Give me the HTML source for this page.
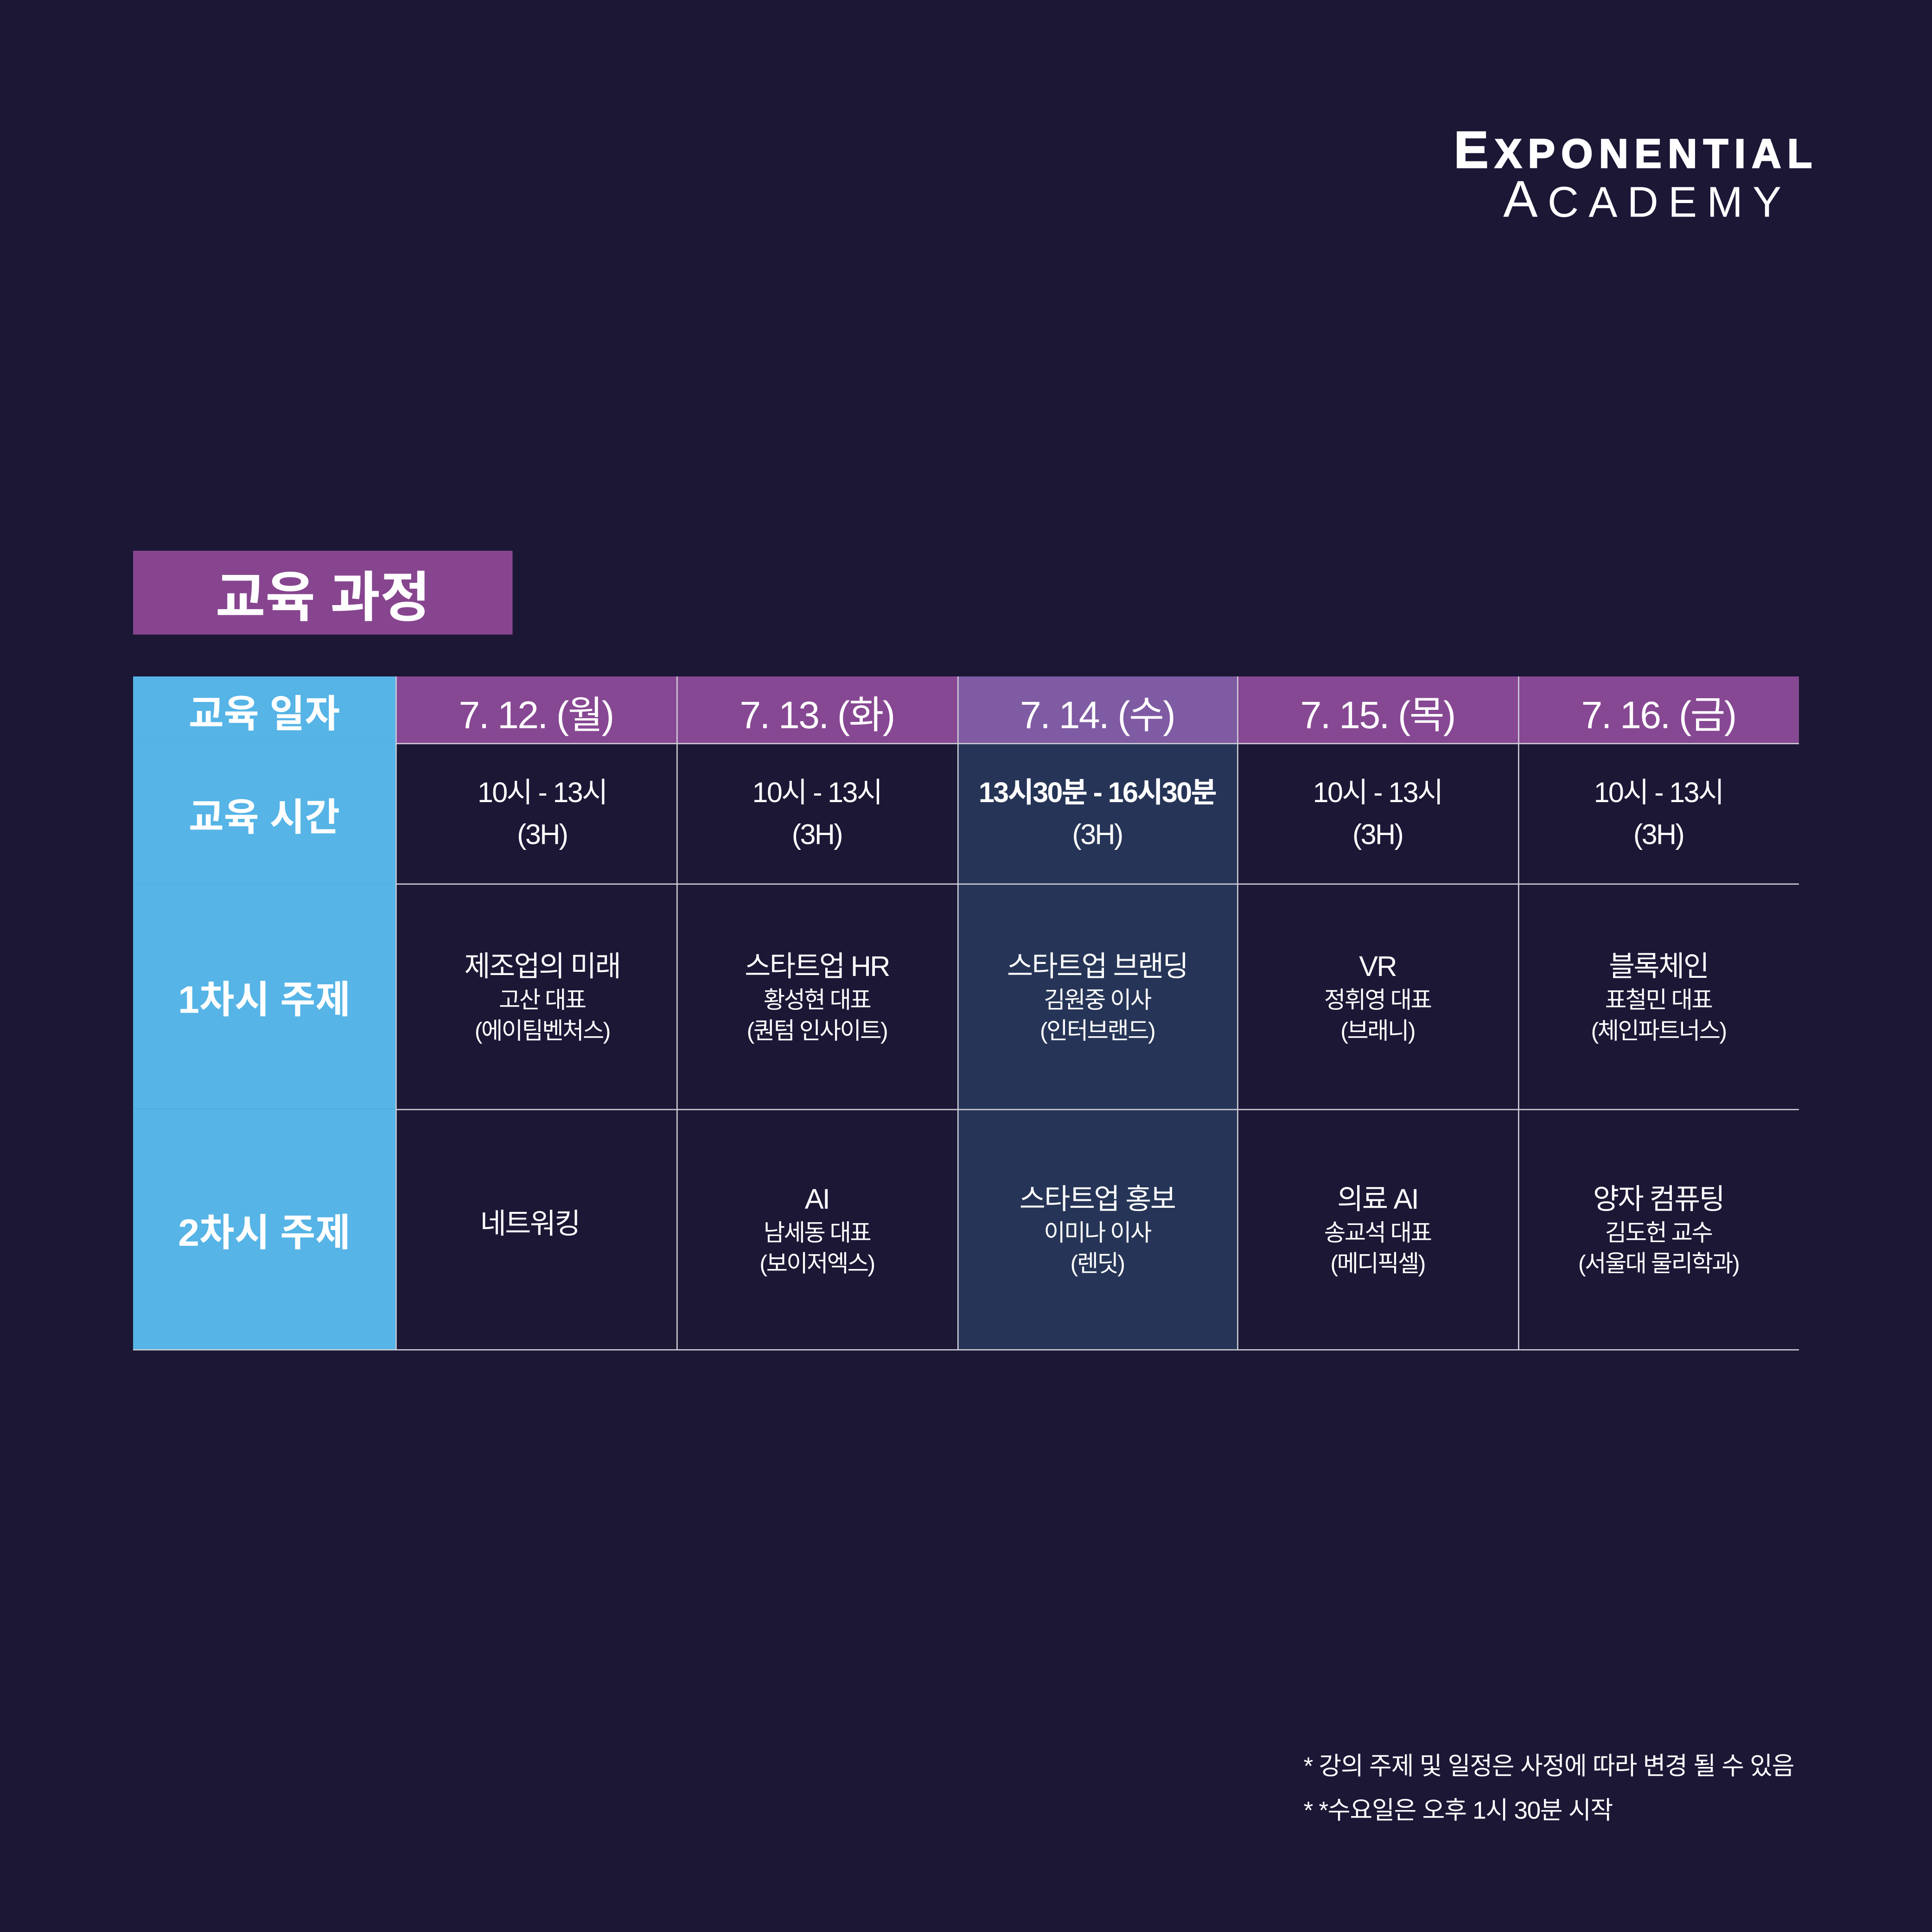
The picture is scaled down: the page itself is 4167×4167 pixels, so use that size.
<!DOCTYPE html>
<html><head><meta charset="utf-8"><style>
html,body{margin:0;padding:0;background:#1b1735;width:4167px;height:4167px;overflow:hidden}
#s{position:absolute;left:0;top:0;width:1568px;height:1568px;transform:scale(2.657526);transform-origin:0 0;font-family:"Liberation Sans","Noto Sans CJK KR",sans-serif;color:#fff}
.a{position:absolute}
.c{position:absolute;display:flex;flex-direction:column;align-items:center;justify-content:center;text-align:center;box-sizing:border-box}
.h{font-size:31px;letter-spacing:-1px}
.l{font-size:31px;font-weight:bold;background:#56b4e6}
.t{font-size:23px;line-height:34px;letter-spacing:-1px}
.p{font-size:23px;line-height:32px;letter-spacing:-1px}
.p small{font-size:19px;line-height:25px}
.vl{position:absolute;width:1px;background:#cfcfd8}
.hl{position:absolute;height:1px;background:#cfcfd8}
</style></head><body><div id="s">
<div class="a" style="left:1180px;top:98px;font-size:42px;font-weight:bold;letter-spacing:5px;-webkit-text-stroke:1px #fff">E<span style="font-size:33px">XPONENTIAL</span></div>
<div class="a" style="left:1220px;top:138px;font-size:42px;letter-spacing:8px;font-weight:300">A<span style="font-size:35px">CADEMY</span></div>
<div class="c" style="left:108px;top:447px;width:308px;height:68px;background:#87458f;font-size:44px;font-weight:bold">교육 과정</div>

<div class="c l" style="left:108px;top:549px;width:213px;height:54px">교육 일자</div>
<div class="c l" style="left:108px;top:603px;width:213px;height:114px">교육 시간</div>
<div class="c l" style="left:108px;top:717px;width:213px;height:183px">1차시 주제</div>
<div class="c l" style="left:108px;top:900px;width:213px;height:195px">2차시 주제</div>

<div class="a" style="left:321px;top:549px;width:1139px;height:54px;background:#874893"></div>
<div class="a" style="left:777px;top:549px;width:227px;height:54px;background:#7f5ba3"></div>
<div class="a" style="left:777px;top:603px;width:227px;height:492px;background:#263557"></div>

<div class="c h" style="left:321px;top:549px;width:228px;height:56px">7. 12. (월)</div>
<div class="c h" style="left:549px;top:549px;width:228px;height:56px">7. 13. (화)</div>
<div class="c h" style="left:777px;top:549px;width:227px;height:56px">7. 14. (수)</div>
<div class="c h" style="left:1004px;top:549px;width:228px;height:56px">7. 15. (목)</div>
<div class="c h" style="left:1232px;top:549px;width:228px;height:56px">7. 16. (금)</div>

<div class="c t" style="left:321px;top:603px;width:238px;height:114px">10시 - 13시<br>(3H)</div>
<div class="c t" style="left:549px;top:603px;width:228px;height:114px">10시 - 13시<br>(3H)</div>
<div class="c t" style="left:777px;top:603px;width:227px;height:114px"><b>13시30분 - 16시30분</b>(3H)</div>
<div class="c t" style="left:1004px;top:603px;width:228px;height:114px">10시 - 13시<br>(3H)</div>
<div class="c t" style="left:1232px;top:603px;width:228px;height:114px">10시 - 13시<br>(3H)</div>

<div class="c p" style="left:321px;top:717px;width:238px;height:183px">제조업의 미래<small>고산 대표<br>(에이팀벤처스)</small></div>
<div class="c p" style="left:549px;top:717px;width:228px;height:183px">스타트업 HR<small>황성현 대표<br>(퀀텀 인사이트)</small></div>
<div class="c p" style="left:777px;top:717px;width:227px;height:183px">스타트업 브랜딩<small>김원중 이사<br>(인터브랜드)</small></div>
<div class="c p" style="left:1004px;top:717px;width:228px;height:183px">VR<small>정휘영 대표<br>(브래니)</small></div>
<div class="c p" style="left:1232px;top:717px;width:228px;height:183px">블록체인<small>표철민 대표<br>(체인파트너스)</small></div>

<div class="c p" style="left:321px;top:900px;width:218px;height:186px">네트워킹</div>
<div class="c p" style="left:549px;top:900px;width:228px;height:195px">AI<small>남세동 대표<br>(보이저엑스)</small></div>
<div class="c p" style="left:777px;top:900px;width:227px;height:195px">스타트업 홍보<small>이미나 이사<br>(렌딧)</small></div>
<div class="c p" style="left:1004px;top:900px;width:228px;height:195px">의료 AI<small>송교석 대표<br>(메디픽셀)</small></div>
<div class="c p" style="left:1232px;top:900px;width:228px;height:195px">양자 컴퓨팅<small>김도헌 교수<br>(서울대 물리학과)</small></div>

<div class="vl" style="left:321px;top:549px;height:546px"></div>
<div class="vl" style="left:549px;top:549px;height:546px"></div>
<div class="vl" style="left:777px;top:549px;height:546px"></div>
<div class="vl" style="left:1004px;top:549px;height:546px"></div>
<div class="vl" style="left:1232px;top:549px;height:546px"></div>
<div class="hl" style="left:321px;top:603px;width:1139px"></div>
<div class="hl" style="left:321px;top:717px;width:1139px"></div>
<div class="hl" style="left:321px;top:900px;width:1139px"></div>
<div class="hl" style="left:108px;top:1095px;width:1352px"></div>

<div class="a" style="left:1058px;top:1417px;font-size:20px;letter-spacing:-0.5px">* 강의 주제 및 일정은 사정에 따라 변경 될 수 있음</div>
<div class="a" style="left:1058px;top:1453px;font-size:20px;letter-spacing:-0.5px">* *수요일은 오후 1시 30분 시작</div>
</div></body></html>
